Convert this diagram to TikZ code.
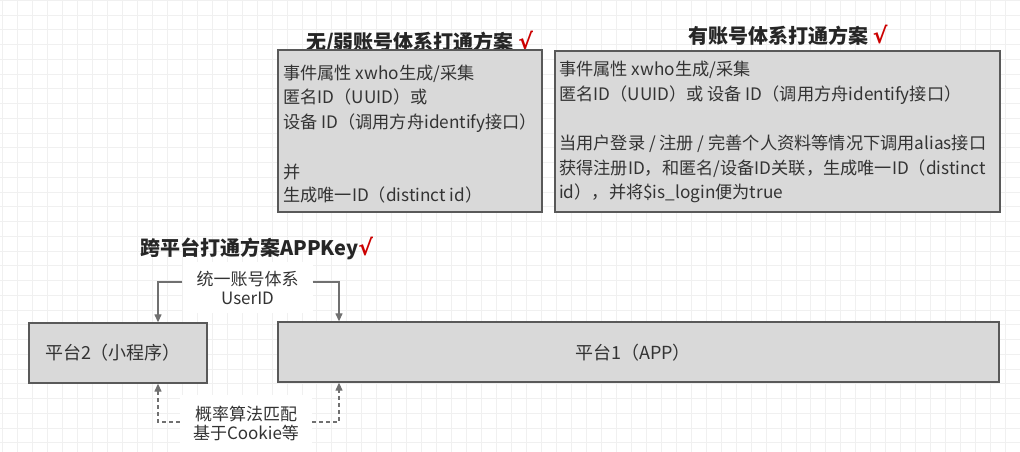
\documentclass[tikz,border=0pt]{standalone}
\usepackage{fontspec}
\setmainfont{Noto Sans CJK SC}
\newfontfamily\chkfont{DejaVu Sans}
\usetikzlibrary{arrows.meta}
\definecolor{boxfill}{HTML}{D9D9D9}
\definecolor{boxdraw}{HTML}{595959}
\definecolor{arr}{HTML}{707070}
\definecolor{txt}{HTML}{333333}
\definecolor{chk}{HTML}{CC0000}
\definecolor{gridc}{HTML}{F0F0F0}
\newcommand{\chkmark}{\textcolor{chk}{\chkfont\bfseries\fontsize{22}{24}\selectfont √}}
\begin{document}
\begin{tikzpicture}[x=1pt,y=-1pt,
  box/.style={draw=boxdraw,fill=boxfill,line width=1.3pt,inner sep=0pt},
  line/.style={anchor=base west,inner sep=0pt,text=txt,font=\fontsize{17.2}{20}\selectfont},
  ttl/.style={anchor=base west,inner sep=0pt,text=black!85,font=\fontsize{20}{23}\selectfont\bfseries},
  ptxt/.style={text=txt,inner sep=0pt,font=\fontsize{18}{21}\selectfont},
  lbl/.style={fill=white,text=txt,inner sep=0pt,align=center,font=\fontsize{17}{19}\selectfont},
  conn/.style={draw=arr,line width=1.2pt,-{Triangle[length=8pt,width=7pt]}},
  dconn/.style={conn,dash pattern=on 4pt off 3pt}]
\useasboundingbox (0,0) rectangle (1020,452);
\fill[white] (0,0) rectangle (1020,452);
\foreach \i in {0,...,67} \draw[gridc,line width=0.8pt] ({2.5+14.97*\i},0) -- ++(0,452);
\foreach \j in {0,...,30} \draw[gridc,line width=0.8pt] (0,{0.3+14.75*\j}) -- ++(1020,0);

% titles
\node[ttl] (tA) at (306,49) {无/弱账号体系打通方案 \chkmark};
\node[ttl] (tB) at (688,44) {有账号体系打通方案 \chkmark};
\node[ttl] (tC) at (140,255) {跨平台打通方案APPKey\chkmark};

% box A
\node[box,minimum width=264pt,minimum height=162pt] (bA) at (410,131) {};
\node[line] (a1) at (283,79) {事件属性 xwho生成/采集};
\node[line] (a2) at (283,103) {匿名ID（UUID）或};
\node[line] (a3) at (283,128) {设备 ID（调用方舟identify接口）};
\node[line] (a4) at (283,178) {并};
\node[line] (a5) at (283,201) {生成唯一ID（distinct id）};

% box B
\node[box,minimum width=445pt,minimum height=161pt] (bB) at (777.5,131.5) {};
\node[line] (b1) at (559,76) {事件属性 xwho生成/采集};
\node[line] (b2) at (559,100) {匿名ID（UUID）或 设备 ID（调用方舟identify接口）};
\node[line] (b3) at (559,149) {当用户登录 / 注册 / 完善个人资料等情况下调用alias接口};
\node[line] (b4) at (559,174) {获得注册ID，和匿名/设备ID关联，生成唯一ID（distinct};
\node[line] (b5) at (559,198) {id），并将\$is\_login便为true};

% platforms
\node[box,minimum width=178pt,minimum height=60pt] (p2) at (118,353) {};
\node[ptxt] (p2t) at (113,353) {平台2（小程序）};
\node[box,minimum width=721pt,minimum height=60pt] (p1) at (638.5,352) {};
\node[ptxt] (p1t) at (633,353) {平台1（APP）};

% labels
\node[lbl,minimum width=130pt,minimum height=51pt] (lT) at (247.5,287.5) {统一账号体系\\UserID};
\node[lbl,minimum width=132pt,minimum height=57pt] (lB) at (246,423.5) {概率算法匹配\\基于Cookie等};

\coordinate (xl) at (158,282);
\coordinate (xr) at (339,282);
\coordinate (yb) at (0,422);
\draw[conn] (lT.west|-xl) -| (p2.north-|xl);
\draw[conn] (lT.east|-xr) -| (p1.north-|xr);
\draw[dconn] (lB.west|-yb) -| (p2.south-|xl);
\draw[dconn] (lB.east|-yb) -| (p1.south-|xr);
\end{tikzpicture}
\end{document}
